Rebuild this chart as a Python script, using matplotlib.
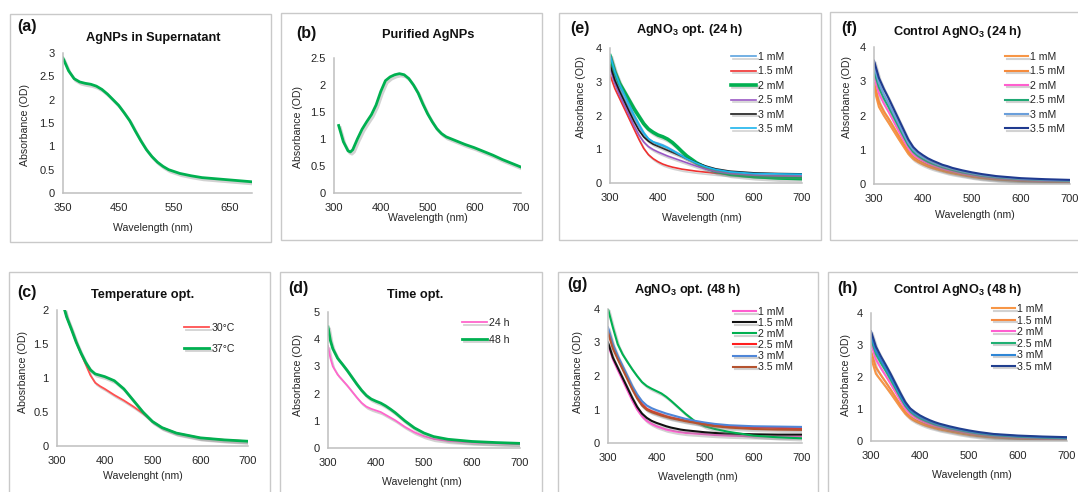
import matplotlib
matplotlib.use("Agg")
import matplotlib.pyplot as plt
import matplotlib.patheffects as pe
from matplotlib.patches import Rectangle
from matplotlib.ticker import FuncFormatter

plt.rcParams['font.family'] = ['Liberation Sans', 'DejaVu Sans']
plt.rcParams['mathtext.fontset'] = 'custom'
plt.rcParams['mathtext.rm'] = 'Liberation Sans'
plt.rcParams['mathtext.bf'] = 'Liberation Sans:bold'

# ---------------- data ----------------
# (a) AgNPs in supernatant
wl_a = [350, 360, 370, 380, 390, 400, 410, 420, 430, 440, 450, 460, 470, 480, 490,
        500, 510, 520, 530, 540, 560, 580, 600, 620, 640, 660, 690]
abs_a = [2.89, 2.62, 2.45, 2.38, 2.35, 2.33, 2.29, 2.22, 2.12, 2.00, 1.88, 1.72, 1.55,
         1.33, 1.12, 0.93, 0.78, 0.66, 0.57, 0.50, 0.42, 0.37, 0.33, 0.31, 0.29, 0.27, 0.24]

# (b) Purified AgNPs
wl_b = [310, 320, 330, 335, 340, 350, 360, 370, 380, 390, 400, 410, 420, 430, 440, 450,
        460, 470, 480, 490, 500, 510, 520, 530, 540, 560, 580, 600, 620, 640, 660, 680, 700]
abs_b = [1.25, 0.95, 0.78, 0.76, 0.80, 1.00, 1.18, 1.32, 1.45, 1.63, 1.88, 2.08, 2.15,
         2.19, 2.21, 2.19, 2.12, 2.00, 1.85, 1.65, 1.47, 1.32, 1.19, 1.10, 1.04, 0.97,
         0.90, 0.84, 0.77, 0.70, 0.62, 0.55, 0.48]

# (c) Temperature optimisation
wl_c = [316, 320, 330, 340, 350, 360, 370, 380, 390, 400, 420, 440, 460, 480, 500,
        520, 550, 600, 650, 700]
t30 = [2.0, 1.9, 1.72, 1.53, 1.36, 1.2, 1.04, 0.93, 0.88, 0.84, 0.75, 0.67, 0.58,
       0.48, 0.36, 0.27, 0.19, 0.12, 0.09, 0.07]
t37 = [2.0, 1.9, 1.72, 1.53, 1.37, 1.23, 1.12, 1.06, 1.04, 1.02, 0.96, 0.84, 0.67,
       0.50, 0.36, 0.27, 0.19, 0.12, 0.09, 0.07]

# (d) Time optimisation
wl_d = [300, 305, 310, 320, 330, 340, 350, 360, 370, 380, 390, 400, 410, 420, 430,
        440, 450, 460, 480, 500, 520, 550, 600, 650, 700]
h24 = [3.75, 3.3, 3.0, 2.7, 2.5, 2.3, 2.08, 1.86, 1.66, 1.52, 1.44, 1.38, 1.32, 1.22,
       1.12, 1.02, 0.9, 0.78, 0.58, 0.43, 0.33, 0.26, 0.2, 0.17, 0.14]
h48 = [4.45, 3.95, 3.65, 3.3, 3.08, 2.85, 2.6, 2.35, 2.12, 1.93, 1.8, 1.72, 1.65, 1.55,
       1.43, 1.3, 1.15, 1.0, 0.74, 0.55, 0.42, 0.32, 0.24, 0.2, 0.17]

# (e)-(h) concentration series
wl = [300, 310, 320, 330, 340, 350, 360, 370, 380, 390, 400, 410, 420, 430, 440, 450,
      460, 480, 500, 520, 550, 600, 650, 700]
conc_labels = ['1 mM', '1.5 mM', '2 mM', '2.5 mM', '3 mM', '3.5 mM']

e_1 = [3.6, 3.15, 2.8, 2.5, 2.22, 1.95, 1.68, 1.45, 1.3, 1.22, 1.18, 1.13, 1.06, 0.98,
       0.9, 0.82, 0.74, 0.6, 0.47, 0.38, 0.3, 0.24, 0.22, 0.21]
e_15 = [3.2, 2.8, 2.5, 2.2, 1.9, 1.6, 1.3, 1.03, 0.84, 0.72, 0.63, 0.56, 0.51, 0.47,
        0.44, 0.41, 0.39, 0.35, 0.32, 0.29, 0.26, 0.22, 0.19, 0.17]
e_2 = [3.77, 3.3, 2.95, 2.7, 2.45, 2.2, 1.98, 1.76, 1.6, 1.5, 1.42, 1.37, 1.3, 1.2,
       1.07, 0.93, 0.8, 0.6, 0.45, 0.35, 0.26, 0.19, 0.15, 0.13]
e_25 = [3.4, 2.95, 2.6, 2.3, 2.0, 1.7, 1.43, 1.22, 1.08, 0.99, 0.92, 0.86, 0.8, 0.75,
        0.7, 0.65, 0.6, 0.5, 0.41, 0.34, 0.28, 0.23, 0.21, 0.2]
e_3 = [3.5, 3.05, 2.72, 2.42, 2.12, 1.83, 1.57, 1.37, 1.24, 1.15, 1.09, 1.03, 0.97,
       0.91, 0.85, 0.79, 0.72, 0.6, 0.5, 0.42, 0.35, 0.3, 0.28, 0.27]
e_35 = [3.8, 3.3, 2.92, 2.62, 2.32, 2.02, 1.75, 1.5, 1.32, 1.22, 1.15, 1.1, 1.04, 0.96,
        0.88, 0.8, 0.72, 0.59, 0.48, 0.4, 0.33, 0.28, 0.27, 0.26]

f_1 = [2.8, 2.25, 2.0, 1.78, 1.55, 1.32, 1.1, 0.88, 0.73, 0.64, 0.57, 0.51, 0.46, 0.42,
       0.38, 0.34, 0.31, 0.26, 0.21, 0.17, 0.13, 0.09, 0.07, 0.05]
f_15 = [2.95, 2.4, 2.12, 1.9, 1.66, 1.42, 1.18, 0.95, 0.79, 0.69, 0.62, 0.55, 0.5, 0.45,
        0.41, 0.37, 0.34, 0.28, 0.23, 0.19, 0.15, 0.1, 0.08, 0.06]
f_2 = [3.15, 2.65, 2.35, 2.1, 1.83, 1.56, 1.3, 1.05, 0.87, 0.76, 0.68, 0.61, 0.55, 0.5,
       0.45, 0.41, 0.38, 0.31, 0.26, 0.22, 0.17, 0.12, 0.09, 0.08]
f_25 = [3.3, 2.82, 2.5, 2.24, 1.96, 1.68, 1.4, 1.13, 0.94, 0.82, 0.73, 0.65, 0.59, 0.54,
        0.49, 0.45, 0.41, 0.34, 0.29, 0.24, 0.19, 0.14, 0.11, 0.09]
f_3 = [3.45, 2.95, 2.62, 2.35, 2.06, 1.77, 1.48, 1.2, 1.0, 0.87, 0.78, 0.7, 0.63, 0.57,
       0.52, 0.48, 0.44, 0.37, 0.31, 0.26, 0.21, 0.15, 0.12, 0.1]
f_35 = [3.6, 3.1, 2.78, 2.5, 2.2, 1.9, 1.6, 1.3, 1.08, 0.94, 0.84, 0.75, 0.68, 0.62,
        0.56, 0.52, 0.47, 0.4, 0.34, 0.29, 0.23, 0.17, 0.14, 0.12]

g_1 = [2.95, 2.5, 2.18, 1.88, 1.57, 1.27, 1.0, 0.8, 0.66, 0.57, 0.5, 0.45, 0.4, 0.37,
       0.34, 0.32, 0.3, 0.28, 0.26, 0.24, 0.22, 0.2, 0.19, 0.19]
g_15 = [3.0, 2.55, 2.25, 1.95, 1.65, 1.35, 1.08, 0.88, 0.75, 0.66, 0.6, 0.55, 0.5, 0.46,
        0.43, 0.4, 0.38, 0.35, 0.32, 0.3, 0.28, 0.26, 0.25, 0.25]
g_2 = [4.0, 3.45, 2.95, 2.65, 2.42, 2.2, 2.0, 1.82, 1.7, 1.62, 1.55, 1.48, 1.38, 1.26,
       1.13, 1.0, 0.87, 0.64, 0.5, 0.42, 0.33, 0.22, 0.17, 0.14]
g_25 = [3.35, 2.88, 2.55, 2.25, 1.95, 1.65, 1.38, 1.16, 1.02, 0.95, 0.9, 0.85, 0.8,
        0.76, 0.73, 0.7, 0.67, 0.62, 0.58, 0.54, 0.5, 0.47, 0.45, 0.44]
g_3 = [3.45, 2.95, 2.6, 2.3, 2.0, 1.7, 1.45, 1.25, 1.12, 1.04, 0.98, 0.93, 0.88, 0.84,
       0.8, 0.76, 0.72, 0.66, 0.61, 0.57, 0.53, 0.5, 0.49, 0.48]
g_35 = [3.3, 2.82, 2.5, 2.2, 1.9, 1.6, 1.33, 1.12, 0.99, 0.92, 0.87, 0.82, 0.78, 0.74,
        0.71, 0.68, 0.65, 0.6, 0.55, 0.5, 0.46, 0.42, 0.4, 0.39]

h_1 = [2.6, 2.1, 1.9, 1.7, 1.49, 1.27, 1.05, 0.85, 0.71, 0.62, 0.55, 0.49, 0.44, 0.4,
       0.36, 0.33, 0.3, 0.24, 0.19, 0.15, 0.11, 0.07, 0.05, 0.03]
h_15 = [2.8, 2.3, 2.06, 1.84, 1.61, 1.37, 1.13, 0.91, 0.76, 0.66, 0.59, 0.53, 0.48,
        0.43, 0.39, 0.36, 0.33, 0.27, 0.22, 0.18, 0.13, 0.09, 0.06, 0.05]
h_2 = [3.05, 2.55, 2.28, 2.04, 1.79, 1.53, 1.27, 1.02, 0.85, 0.74, 0.66, 0.59, 0.53,
       0.48, 0.44, 0.4, 0.37, 0.31, 0.25, 0.21, 0.16, 0.11, 0.08, 0.07]
h_25 = [3.2, 2.72, 2.44, 2.19, 1.92, 1.64, 1.36, 1.1, 0.92, 0.8, 0.71, 0.64, 0.58, 0.52,
        0.48, 0.44, 0.4, 0.34, 0.28, 0.23, 0.18, 0.13, 0.1, 0.08]
h_3 = [3.3, 2.82, 2.53, 2.27, 2.0, 1.71, 1.42, 1.15, 0.96, 0.84, 0.75, 0.67, 0.61, 0.55,
       0.5, 0.46, 0.42, 0.36, 0.3, 0.25, 0.2, 0.15, 0.12, 0.1]
h_35 = [3.43, 2.95, 2.65, 2.38, 2.1, 1.8, 1.5, 1.22, 1.02, 0.9, 0.8, 0.72, 0.65, 0.59,
        0.54, 0.5, 0.46, 0.39, 0.33, 0.28, 0.22, 0.17, 0.14, 0.12]

# ---------------- figure ----------------
W, H = 1078, 492
fig = plt.figure(figsize=(W / 100, H / 100), dpi=100)

GREEN = '#00B050'
TXT = '#262626'


def fx(x):
    return x / W


def fy(y):
    return 1 - y / H


def box(x0, y0, x1, y1):
    fig.patches.append(Rectangle((fx(x0), fy(y1)), fx(x1 - x0), (y1 - y0) / H,
                                 transform=fig.transFigure, fill=False,
                                 edgecolor='#C9C9C9', lw=1.0, zorder=0))


shadow = [pe.SimpleLineShadow(offset=(1.2, -1.6), shadow_color='#7f7f7f', alpha=0.35),
          pe.Normal()]

fmt = FuncFormatter(lambda v, p: ('%g' % v))


def make_ax(x0, x1, ytop, ybot, xlim, ylim, xticks, yticks):
    ax = fig.add_axes([fx(x0), fy(ybot), fx(x1 - x0), (ybot - ytop) / H])
    ax.set_xlim(*xlim)
    ax.set_ylim(*ylim)
    ax.set_xticks(xticks)
    ax.set_yticks(yticks)
    ax.yaxis.set_major_formatter(fmt)
    for s in ['top', 'right']:
        ax.spines[s].set_visible(False)
    for s in ['left', 'bottom']:
        ax.spines[s].set_color('#BFBFBF')
        ax.spines[s].set_linewidth(1.1)
    ax.tick_params(length=0, labelsize=8, colors=TXT)
    ax.tick_params(axis='x', pad=7)
    ax.tick_params(axis='y', pad=6)
    ax.patch.set_alpha(0)
    return ax


def texts(label, lab_xy, title, title_xy, xlabel, xl_xy, ylabel, yl_xy):
    fig.text(fx(lab_xy[0]), fy(lab_xy[1]), label, fontsize=11.5, fontweight='bold',
             ha='left', va='center', color='#111111')
    fig.text(fx(title_xy[0]), fy(title_xy[1]), title, fontsize=9.2, fontweight='bold',
             ha='center', va='center', color='#111111')
    fig.text(fx(xl_xy[0]), fy(xl_xy[1]), xlabel, fontsize=7.6, ha='center', va='center',
             color=TXT)
    fig.text(fx(yl_xy[0]), fy(yl_xy[1]), ylabel, fontsize=7.6, ha='center', va='center',
             rotation=90, color=TXT)


def legend(ax, x, y, spacing, hl=2.4):
    ax.legend(loc='upper left', bbox_to_anchor=(fx(x), fy(y)), bbox_transform=fig.transFigure,
              frameon=False, fontsize=7.6, handlelength=hl, handletextpad=0.2,
              labelspacing=spacing, borderpad=0, borderaxespad=0, labelcolor=TXT)


# panel boxes
box(10, 14, 271, 242)
box(281, 13, 542, 240)
box(559, 13, 821, 240)
box(830, 12, 1090, 240)
box(9, 272, 270, 510)
box(280, 272, 542, 510)
box(558, 272, 818, 510)
box(828, 272, 1090, 510)

# (a)
ax = make_ax(63, 252, 53, 193, (350, 690), (0, 3), [350, 450, 550, 650],
             [0, 0.5, 1, 1.5, 2, 2.5, 3])
ax.plot(wl_a, abs_a, color=GREEN, lw=2.0, path_effects=shadow)
texts('(a)', (17, 27), 'AgNPs in Supernatant', (153, 38), 'Wavelength (nm)', (153, 228),
      'Absorbance (OD)', (25, 125))

# (b)
ax = make_ax(334, 521, 58, 193, (300, 700), (0, 2.5), [300, 400, 500, 600, 700],
             [0, 0.5, 1, 1.5, 2, 2.5])
ax.plot(wl_b, abs_b, color=GREEN, lw=2.0, path_effects=shadow)
texts('(b)', (296, 33), 'Purified AgNPs', (428, 35), 'Wavelength (nm)', (428, 218),
      'Absorbance (OD)', (298, 127))

# (e)
ax = make_ax(610, 802, 48, 183, (300, 700), (0, 4), [300, 400, 500, 600, 700],
             [0, 1, 2, 3, 4])
e_series = [e_1, e_15, e_2, e_25, e_3, e_35]
e_colors = ['#5BA3DF', '#F0302F', GREEN, '#9957C4', '#1A1A1A', '#1CB4EC']
for vals, c, lab in zip(e_series, e_colors, conc_labels):
    lw = 2.6 if lab == '2 mM' else 1.2
    ax.plot(wl, vals, color=c, lw=lw, label=lab, path_effects=shadow)
legend(ax, 731, 52, 0.42)
texts('(e)', (570, 28), r'AgNO$_\mathbf{3}$ opt. (24 h)', (690, 30), 'Wavelength (nm)',
      (702, 218), 'Absorbance (OD)', (581, 97))

# (f)
ax = make_ax(874, 1070, 47, 184, (300, 700), (0, 4), [300, 400, 500, 600, 700],
             [0, 1, 2, 3, 4])
f_series = [f_1, f_15, f_2, f_25, f_3, f_35]
f_colors = ['#F79646', '#F58B3D', '#FF5FCF', '#1FA874', '#6A9FDB', '#1F3A8F']
for vals, c, lab in zip(f_series, f_colors, conc_labels):
    ax.plot(wl, vals, color=c, lw=1.5, label=lab, path_effects=shadow)
legend(ax, 1005, 52, 0.42, hl=2.2)
texts('(f)', (841, 28), r'Control AgNO$_\mathbf{3}$ (24 h)', (958, 32), 'Wavelength (nm)',
      (975, 215), 'Absorbance (OD)', (847, 97))

# (c)
ax = make_ax(57, 248, 310, 446, (300, 700), (0, 2), [300, 400, 500, 600, 700],
             [0, 0.5, 1, 1.5, 2])
ax.plot(wl_c, t30, color='#FF5050', lw=1.3, label='30°C', path_effects=shadow)
ax.plot(wl_c, t37, color=GREEN, lw=2.0, label='37°C', path_effects=shadow)
legend(ax, 184, 323, 1.0)
texts('(c)', (17, 292), 'Temperature opt.', (143, 295), 'Wavelenght (nm)', (143, 476),
      'Abosrbance (OD)', (23, 372))

# (d)
ax = make_ax(328, 520, 312, 448, (300, 700), (0, 5), [300, 400, 500, 600, 700],
             [0, 1, 2, 3, 4, 5])
ax.plot(wl_d, h24, color='#FF66CC', lw=1.3, label='24 h', path_effects=shadow)
ax.plot(wl_d, h48, color=GREEN, lw=2.0, label='48 h', path_effects=shadow)
legend(ax, 462, 318, 0.65)
texts('(d)', (288, 288), 'Time opt.', (415, 295), 'Wavelenght (nm)', (422, 482),
      'Absorbance (OD)', (298, 375))

# (g)
ax = make_ax(608, 802, 309, 443, (300, 700), (0, 4), [300, 400, 500, 600, 700],
             [0, 1, 2, 3, 4])
g_series = [g_1, g_15, g_2, g_25, g_3, g_35]
g_colors = ['#FF5FD0', '#111111', GREEN, '#FF1E1E', '#4F86D8', '#B5532F']
for vals, c, lab in zip(g_series, g_colors, conc_labels):
    ax.plot(wl, vals, color=c, lw=1.5, label=lab, path_effects=shadow)
legend(ax, 733, 307, 0.1, hl=2.2)
texts('(g)', (567, 285), r'AgNO$_\mathbf{3}$ opt. (48 h)', (688, 290), 'Wavelength (nm)',
      (698, 477), 'Absorbance (OD)', (578, 372))

# (h)
ax = make_ax(871, 1067, 313, 441, (300, 700), (0, 4), [300, 400, 500, 600, 700],
             [0, 1, 2, 3, 4])
h_series = [h_1, h_15, h_2, h_25, h_3, h_35]
h_colors = ['#F79646', '#F58A42', '#FF5FD0', '#1FB073', '#2E86D6', '#203F8F']
for vals, c, lab in zip(h_series, h_colors, conc_labels):
    ax.plot(wl, vals, color=c, lw=1.5, label=lab, path_effects=shadow)
legend(ax, 992, 304, 0.15, hl=2.2)
texts('(h)', (837, 288), r'Control AgNO$_\mathbf{3}$ (48 h)', (958, 290), 'Wavelength (nm)',
      (972, 475), 'Absorbance (OD)', (846, 375))

fig.savefig('out.png', dpi=100)
